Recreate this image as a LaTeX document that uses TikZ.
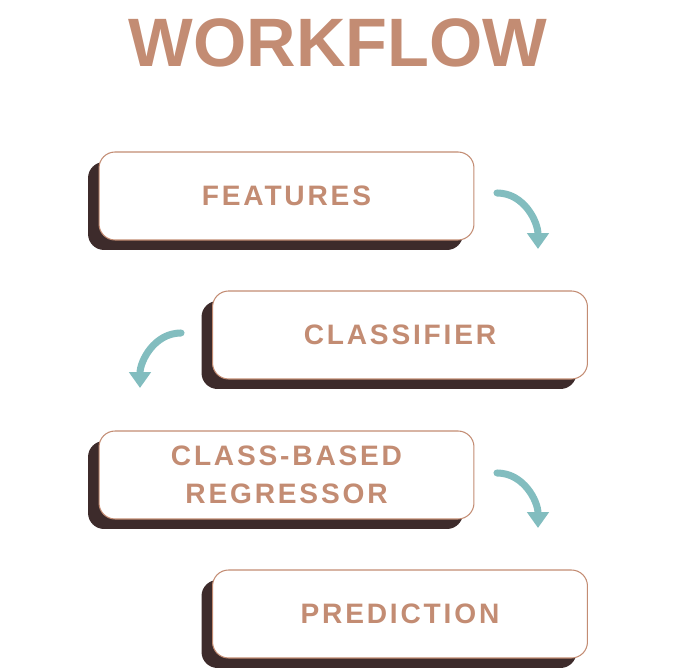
\documentclass[tikz,border=0pt]{standalone}
\usepackage{fontspec}
\setmainfont{Liberation Sans}
\newfontfamily\boxfont[LetterSpace=10]{Liberation Sans}
\usepackage{tikz}
\usetikzlibrary{arrows.meta,positioning,shadows}
\definecolor{tan}{HTML}{C38C73}
\definecolor{teal}{HTML}{82BDBF}
\definecolor{shadowbrown}{HTML}{3D2B2B}
\newcommand{\newStep}[3]{\node[stepbox](#1) at (#3) {#2};}
\newcommand{\newArrow}[4]{\draw[flow] (#1) to[out=#3,in=#4] (#2);}

\begin{document}
\begin{tikzpicture}[
    % one pixel of the layout
    x=0.02cm,y=0.02cm,
    % the rounded step boxes
    stepbox/.style={draw=tan,line width=0.6pt,fill=white,rounded corners=0.32cm,
      minimum width=7.5cm,minimum height=1.76cm,align=center,
      font=\boxfont\bfseries\fontsize{16}{22}\selectfont,text=tan,
      general shadow={shadow xshift=-0.22cm,shadow yshift=-0.2cm,fill=shadowbrown}},
    % the curved teal arrows
    flow/.style={draw=teal,line width=4pt,line cap=round,
      -{Triangle[width=12pt,length=9pt]}}
    ]
    \useasboundingbox (0,0) rectangle (677,669);

    \node[text=tan,font=\bfseries\fontsize{39}{40}\selectfont] (title) at (338,626) {WORKFLOW};

    \newStep{features}{FEATURES}{286.5,473}
    \newStep{classifier}{CLASSIFIER}{400,334}
    \newStep{regressor}{CLASS-BASED\\REGRESSOR}{286.5,194}
    \newStep{prediction}{PREDICTION}{400,55}

    \coordinate (a1) at (497,476);
    \coordinate (b1) at (538,420);
    \coordinate (a2) at (181,336);
    \coordinate (b2) at (140,281);
    \coordinate (a3) at (497,196);
    \coordinate (b3) at (538,141);

    \newArrow{a1}{b1}{0}{90}
    \newArrow{a2}{b2}{180}{90}
    \newArrow{a3}{b3}{0}{90}
  \end{tikzpicture}
\end{document}
